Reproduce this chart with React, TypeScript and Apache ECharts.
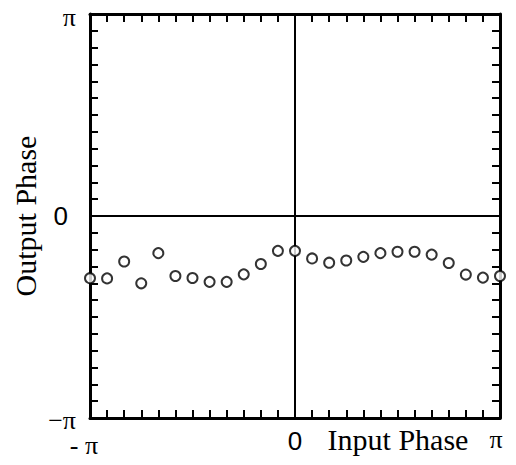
import React, { useEffect, useRef } from "react";
import * as echarts from "echarts";

// Input phase (degrees, -π..π in 15° steps)
const inputPhase = [
  -180, -165, -150, -135, -120, -105, -90, -75, -60, -45, -30, -15, 0,
  15, 30, 45, 60, 75, 90, 105, 120, 135, 150, 165, 180,
];
// Output phase (degrees)
const outputPhase = [
  -55.4, -55.6, -40.5, -60.0, -33.1, -53.5, -55.3, -58.7, -58.7, -52.0, -42.8, -31.1, -31.1,
  -37.8, -41.6, -39.6, -36.4, -33.1, -31.9, -31.9, -34.4, -41.9, -52.2, -54.9, -53.5,
];
const tickLabels: Record<number, string> = { [-180]: "−π", 0: "0", 180: "π" };

export default function App() {
  const ref = useRef<HTMLDivElement>(null);
  useEffect(() => {
    if (!ref.current) return;
    const chart = echarts.init(ref.current, null, { renderer: "svg" });
    const serif = "Liberation Serif";
    const axisCommon = {
      type: "value" as const,
      min: -180,
      max: 180,
      interval: 15,
      splitLine: { show: false },
      axisLine: { show: true, onZero: false, lineStyle: { color: "#000", width: 3 } },
      axisTick: { show: true, inside: true, length: 8, lineStyle: { color: "#000", width: 2 } },
    };
    chart.setOption({
      animation: false,
      backgroundColor: "#fff",
      grid: { left: 90, right: 16, top: 14, bottom: 47, containLabel: false, outerBoundsMode: "none" },
      xAxis: [
        {
          ...axisCommon,
          position: "bottom",
          name: "Input Phase",
          nameLocation: "middle",
          nameGap: 6,
          nameMoveOverlap: false,
          nameTextStyle: {
            fontFamily: serif,
            fontSize: 30,
            color: "#000",
            verticalAlign: "top",
            padding: [0, 0, 0, 206],
          },
          axisLabel: {
            show: true,
            showMinLabel: true,
            showMaxLabel: true,
            margin: 8,
            formatter: (v: number) =>
              v === -180 ? "{m|- π}" : v === 0 ? "{z|0}" : v === 180 ? "{p|π}" : "",
            rich: {
              m: { fontFamily: serif, fontSize: 26, color: "#000", padding: [6, 12, 0, 0] },
              z: { fontFamily: "Liberation Sans", fontSize: 26, color: "#000", padding: [2, 0, 0, 0] },
              p: { fontFamily: serif, fontSize: 26, color: "#000", padding: [0, 8, 4, 0] },
            },
          },
        },
        { ...axisCommon, position: "top", axisLabel: { show: false } },
      ],
      yAxis: [
        {
          ...axisCommon,
          position: "left",
          name: "Output Phase",
          nameLocation: "middle",
          nameRotate: 90,
          nameGap: 50,
          nameMoveOverlap: false,
          nameTextStyle: { fontFamily: serif, fontSize: 30, color: "#000" },
          axisLabel: {
            show: true,
            showMinLabel: true,
            showMaxLabel: true,
            margin: 14,
            formatter: (v: number) =>
              v === -180 ? "{m|" + tickLabels[-180] + "}" : v === 0 ? "{z|0}" : v === 180 ? "{p|π}" : "",
            rich: {
              m: { fontFamily: serif, fontSize: 26, color: "#000", padding: [4, 0, 0, 0] },
              z: { fontFamily: "Liberation Sans", fontSize: 26, color: "#000", padding: [0, 8, 0, 0] },
              p: { fontFamily: serif, fontSize: 26, color: "#000", padding: [6, 0, 0, 0] },
            },
          },
        },
        { ...axisCommon, position: "right", axisLabel: { show: false } },
      ],
      series: [
        {
          type: "scatter",
          data: inputPhase.map((x, i) => [x, outputPhase[i]]),
          symbol: "emptyCircle",
          symbolSize: 10,
          clip: false,
          itemStyle: { color: "#000", borderColor: "#000", borderWidth: 2.5 },
          markLine: {
            silent: true,
            symbol: "none",
            label: { show: false },
            lineStyle: { color: "#000", width: 2, type: "solid" },
            data: [{ xAxis: 0 }, { yAxis: 0 }],
          },
          z: 5,
        },
      ],
    });
    return () => chart.dispose();
  }, []);
  return (
    <div
      ref={ref}
      style={{ position: "fixed", left: 0, top: 0, width: 516, height: 465, background: "#fff" }}
    />
  );
}
